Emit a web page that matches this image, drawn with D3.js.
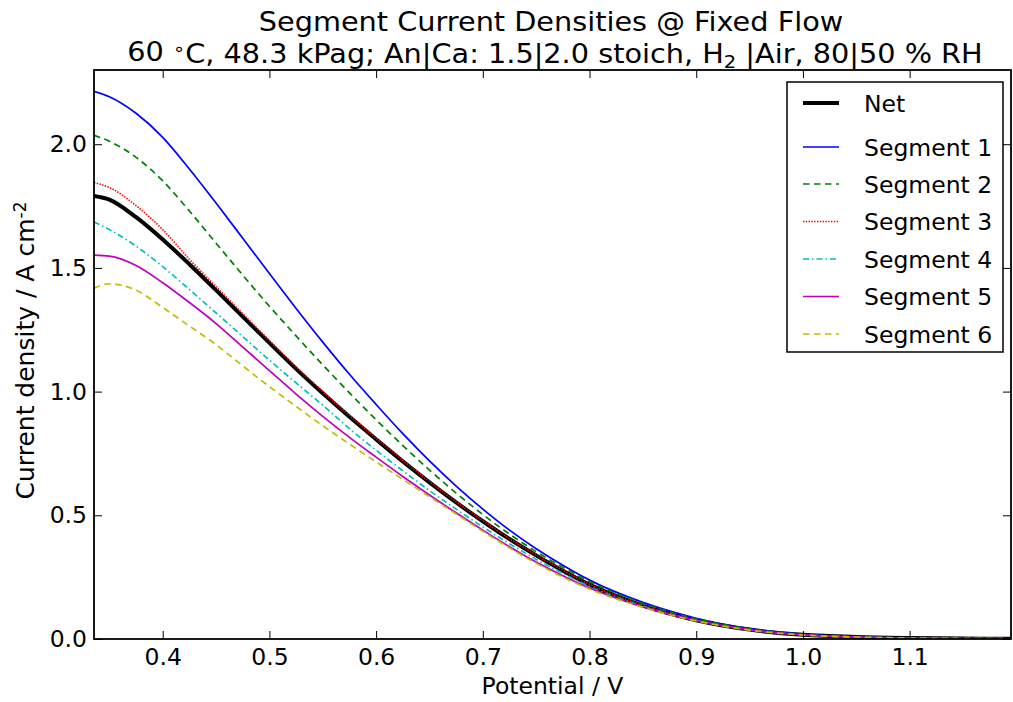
<!DOCTYPE html>
<html>
<head>
<meta charset="utf-8">
<script src="https://cdn.jsdelivr.net/npm/d3@7"></script>
<style>
  body { margin: 0; background: #fff; }
  svg { display: block; font-family: "DejaVu Sans", sans-serif; }
</style>
</head>
<body>
<svg id="chart" width="1013" height="702"></svg>
<script>
// Potential sweep (V) shared by every curve
const potential = [0.3356, 0.35, 0.375, 0.4, 0.425, 0.45, 0.475, 0.5, 0.525, 0.55, 0.575, 0.6, 0.625, 0.65,
  0.675, 0.7, 0.725, 0.75, 0.775, 0.8, 0.85, 0.9, 0.95, 1.0, 1.05, 1.1, 1.15, 1.195];

// Current density (A cm^-2)
const net = [1.791, 1.776, 1.705, 1.615, 1.515, 1.41, 1.303, 1.197, 1.092, 0.993, 0.898, 0.807, 0.718, 0.633,
  0.552, 0.476, 0.404, 0.338, 0.276, 0.220, 0.135, 0.076, 0.038, 0.017, 0.008, 0.004, 0.002, 0.001];
const segment1 = [2.214, 2.192, 2.125, 2.028, 1.9, 1.762, 1.62, 1.477, 1.336, 1.2, 1.07, 0.948, 0.83, 0.72,
  0.618, 0.525, 0.44, 0.365, 0.298, 0.238, 0.148, 0.084, 0.042, 0.019, 0.009, 0.004, 0.002, 0.001];
const segment2 = [2.036, 2.012, 1.947, 1.852, 1.73, 1.6, 1.471, 1.345, 1.225, 1.108, 0.995, 0.886, 0.782, 0.683,
  0.59, 0.503, 0.424, 0.353, 0.29, 0.232, 0.144, 0.081, 0.041, 0.018, 0.008, 0.004, 0.002, 0.001];
const segment3 = [1.845, 1.825, 1.752, 1.655, 1.535, 1.425, 1.315, 1.206, 1.1, 1.0, 0.904, 0.812, 0.722, 0.637,
  0.555, 0.479, 0.406, 0.34, 0.278, 0.221, 0.136, 0.076, 0.038, 0.017, 0.008, 0.004, 0.002, 0.001];
const segment4 = [1.686, 1.655, 1.588, 1.505, 1.413, 1.318, 1.222, 1.127, 1.035, 0.945, 0.85, 0.763, 0.68, 0.60,
  0.525, 0.453, 0.385, 0.322, 0.265, 0.212, 0.133, 0.075, 0.037, 0.017, 0.008, 0.004, 0.002, 0.001];
const segment5 = [1.552, 1.548, 1.51, 1.44, 1.36, 1.275, 1.18, 1.085, 0.99, 0.9, 0.815, 0.735, 0.657, 0.582,
  0.51, 0.44, 0.373, 0.311, 0.256, 0.206, 0.130, 0.074, 0.037, 0.017, 0.008, 0.004, 0.002, 0.001];
const segment6 = [1.418, 1.436, 1.41, 1.34, 1.265, 1.19, 1.104, 1.02, 0.94, 0.862, 0.788, 0.716, 0.645, 0.575,
  0.505, 0.435, 0.368, 0.306, 0.25, 0.202, 0.128, 0.073, 0.036, 0.016, 0.008, 0.004, 0.002, 0.001];

const seriesNames = ["Net", "Segment 1", "Segment 2", "Segment 3", "Segment 4", "Segment 5", "Segment 6"];
const seriesValues = [net, segment1, segment2, segment3, segment4, segment5, segment6];

const xTicks = [0.4, 0.5, 0.6, 0.7, 0.8, 0.9, 1.0, 1.1];
const yTicks = [0.0, 0.5, 1.0, 1.5, 2.0];

// Line styles (matplotlib classic colours)
const styles = [
  { color: "#000000", width: 4,   dash: null },
  { color: "#0000ff", width: 1.7, dash: null },
  { color: "#008000", width: 1.7, dash: "6.5,4.5" },
  { color: "#ff0000", width: 1.7, dash: "1.4,1.4" },
  { color: "#00bfbf", width: 1.7, dash: "6,3,1.5,3" },
  { color: "#bf00bf", width: 1.7, dash: null },
  { color: "#bfbf00", width: 1.7, dash: "6.5,4.5" }
];

const FONT = 23.5;

const svg = d3.select("#chart");
const plot = { left: 94, right: 1011, top: 70, bottom: 639 };

const x = d3.scaleLinear().domain([0.3356, 1.195]).range([plot.left, plot.right]);
const y = d3.scaleLinear().domain([0, 2.3]).range([plot.bottom, plot.top]);

svg.append("rect").attr("width", 1013).attr("height", 702).attr("fill", "#fff");

svg.append("clipPath").attr("id", "plot-clip")
  .append("rect")
  .attr("x", plot.left).attr("y", plot.top)
  .attr("width", plot.right - plot.left).attr("height", plot.bottom - plot.top);

// Curves
const line = d3.line()
  .x(d => x(d[0]))
  .y(d => y(d[1]))
  .curve(d3.curveMonotoneX);

const curves = svg.append("g").attr("clip-path", "url(#plot-clip)");
seriesValues.forEach((vals, i) => {
  const pts = potential.map((v, k) => [v, vals[k]]);
  curves.append("path")
    .datum(pts)
    .attr("d", line)
    .attr("fill", "none")
    .attr("stroke", styles[i].color)
    .attr("stroke-width", styles[i].width)
    .attr("stroke-dasharray", styles[i].dash)
    .attr("stroke-linejoin", "round");
});

// Axes: ticks pointing inward on all four sides
function styleAxis(g) {
  g.select(".domain").remove();
  g.selectAll(".tick line").attr("stroke", "#000").attr("stroke-width", 1);
  g.selectAll(".tick text").attr("fill", "#000").style("font-size", FONT + "px")
    .style("font-family", '"DejaVu Sans", sans-serif');
}

svg.append("g")
  .attr("transform", `translate(0,${plot.bottom})`)
  .call(d3.axisBottom(x).tickValues(xTicks).tickSize(-8).tickPadding(9).tickFormat(d3.format(".1f")))
  .call(styleAxis);

svg.append("g")
  .attr("transform", `translate(0,${plot.top})`)
  .call(d3.axisTop(x).tickValues(xTicks).tickSize(-8).tickFormat(""))
  .call(styleAxis);

svg.append("g")
  .attr("transform", `translate(${plot.left},0)`)
  .call(d3.axisLeft(y).tickValues(yTicks).tickSize(-8).tickPadding(7).tickFormat(d3.format(".1f")))
  .call(styleAxis);

svg.append("g")
  .attr("transform", `translate(${plot.right},0)`)
  .call(d3.axisRight(y).tickValues(yTicks).tickSize(-8).tickFormat(""))
  .call(styleAxis);

// Frame
svg.append("rect")
  .attr("x", plot.left).attr("y", plot.top)
  .attr("width", plot.right - plot.left).attr("height", plot.bottom - plot.top)
  .attr("fill", "none").attr("stroke", "#000").attr("stroke-width", 1.8);

// Axis labels
svg.append("text")
  .attr("x", (plot.left + plot.right) / 2).attr("y", 694)
  .attr("text-anchor", "middle").style("font-size", FONT + "px")
  .text("Potential / V");

const yLabel = svg.append("text")
  .attr("transform", `translate(34,${(plot.top + plot.bottom) / 2 - 4}) rotate(-90)`)
  .attr("text-anchor", "middle").style("font-size", "25px");
yLabel.append("tspan").text("Current density / A cm");
yLabel.append("tspan").attr("dy", "-0.45em").style("font-size", "17px").text("-2");

// Title (two lines, slightly widened glyphs)
svg.append("text")
  .attr("transform", "translate(551,31) scale(1.085,1)")
  .attr("text-anchor", "middle").style("font-size", "26.5px")
  .text("Segment Current Densities @ Fixed Flow");

const sub = svg.append("text")
  .attr("transform", "translate(555,60.5) scale(1.085,1)")
  .attr("text-anchor", "middle").style("font-size", "26.5px");
sub.append("tspan").text("60 ");
sub.append("tspan").attr("dy", "-0.3em").style("font-size", "18px").text("  \u2218");
sub.append("tspan").attr("dy", "0.3em").text("C, 48.3 kPag; An|Ca: 1.5|2.0 stoich, H");
sub.append("tspan").attr("dy", "0.25em").style("font-size", "18px").text("2");
sub.append("tspan").attr("dy", "-0.17em").text(" |Air, 80|50 % RH");

// Legend
const legend = svg.append("g");
legend.append("rect")
  .attr("x", 787).attr("y", 82).attr("width", 216).attr("height", 270)
  .attr("fill", "#fff").attr("stroke", "#000").attr("stroke-width", 1.5);

const rowY = [103, 147, 184, 221.5, 259, 296.5, 334];
seriesNames.forEach((name, i) => {
  legend.append("line")
    .attr("x1", 803).attr("x2", 839)
    .attr("y1", rowY[i]).attr("y2", rowY[i])
    .attr("stroke", styles[i].color)
    .attr("stroke-width", styles[i].width)
    .attr("stroke-dasharray", styles[i].dash);
  legend.append("text")
    .attr("x", 864).attr("y", rowY[i] + 8.5)
    .style("font-size", FONT + "px")
    .text(name);
});
</script>
</body>
</html>
